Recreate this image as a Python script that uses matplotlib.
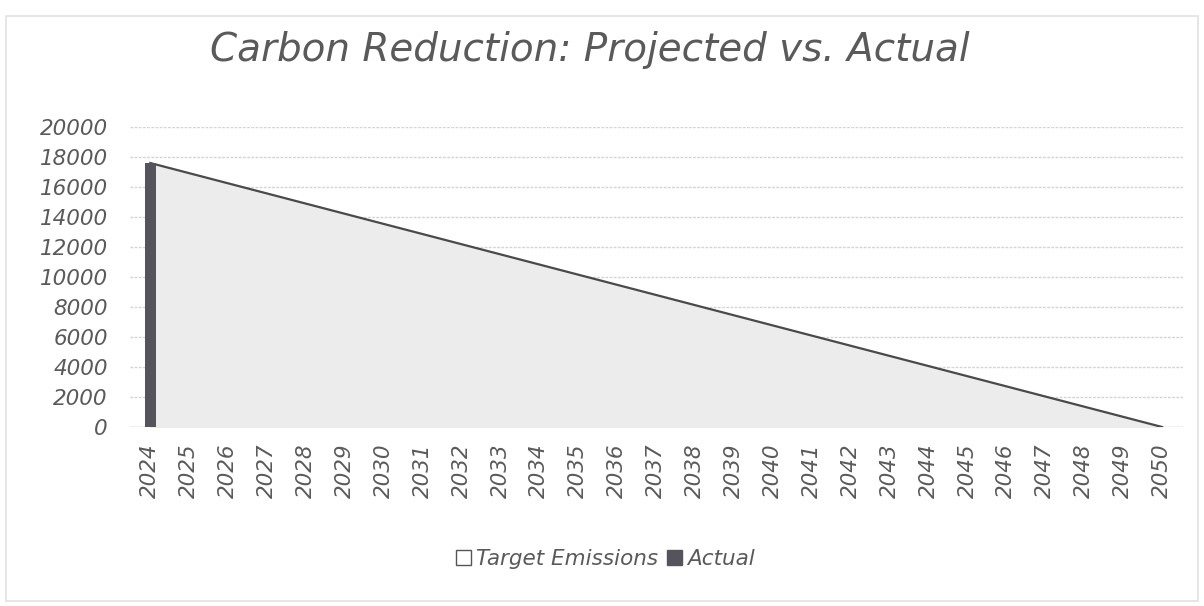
import matplotlib.pyplot as plt
from matplotlib.patches import Patch, Rectangle

# data
years = list(range(2024, 2051))
target = [17600, 16923, 16246, 15569, 14892, 14215, 13538, 12862, 12185,
          11508, 10831, 10154, 9477, 8800, 8123, 7446, 6769, 6092, 5415,
          4738, 4062, 3385, 2708, 2031, 1354, 677, 0]
actual_years = [2024]
actual = [17600]
y_ticks = list(range(0, 20001, 2000))

txt = '#5a5a5a'
plt.rcParams['font.family'] = ['DejaVu Sans']

fig = plt.figure(figsize=(12.04, 6.06), dpi=100)
fig.patch.set_facecolor('white')
fig.patches.append(Rectangle((0.005, 0.008), 0.99, 0.965, transform=fig.transFigure,
                             fill=False, edgecolor='#e2e2e2', linewidth=1.2))

ax = fig.add_axes([0.108, 0.2954, 0.8746, 0.495])
xi = list(range(len(years)))
ax.fill_between(xi, target, 0, color='#ececec', zorder=1)
ax.plot(xi, target, color='#4a4a4a', linewidth=1.6, zorder=2)
ax.bar([years.index(y) for y in actual_years], actual, width=0.27,
       color='#55545c', zorder=3)

ax.set_xlim(-0.52, len(years) - 1 + 0.54)
ax.set_ylim(0, 20000)
ax.set_yticks(y_ticks)
ax.set_yticklabels([str(v) for v in y_ticks], fontsize=15.5, color=txt, style='italic')
ax.set_xticks(xi)
ax.set_xticklabels([str(y) for y in years], rotation=90, fontsize=15.5, color=txt,
                   style='italic')
ax.tick_params(length=0, pad=12)
ax.tick_params(axis='y', pad=16)
ax.grid(axis='y', color='#d4d4d4', linewidth=1, linestyle=(0, (2, 1)))
ax.set_axisbelow(True)
for s in ax.spines.values():
    s.set_visible(False)
ax.axhline(0, color='#c8c8c8', linewidth=1, zorder=0)

fig.text(0.49, 0.918, 'Carbon Reduction: Projected vs. Actual', ha='center', va='center',
         fontsize=28, color=txt, style='italic')

handles = [Patch(facecolor='white', edgecolor='#555555', label='Target Emissions'),
           Patch(facecolor='#55545c', edgecolor='#55545c', label='Actual')]
leg = fig.legend(handles=handles, loc='center', bbox_to_anchor=(0.503, 0.077), ncol=2,
                 frameon=False, handlelength=0.7, handleheight=0.7, handletextpad=0.25,
                 columnspacing=0.4, prop={'size': 15.5, 'style': 'italic'})
for t in leg.get_texts():
    t.set_color(txt)

fig.savefig('out.png', dpi=100)
